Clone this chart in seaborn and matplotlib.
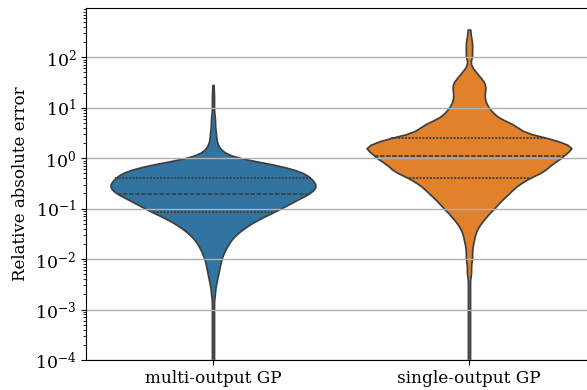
import numpy as np
import pandas as pd
import matplotlib
matplotlib.use("Agg")
import matplotlib.pyplot as plt
import seaborn as sns

# ---- data (log10 of relative absolute error, and how many samples sit there) ----
models = ["multi-output GP", "single-output GP"]
colors = ["#1f77b4", "#ff7f0e"]
ytick_values = [1e-4, 1e-3, 1e-2, 1e-1, 1e0, 1e1, 1e2]

multi_log10 = [1.45, 1.3, 1.2, 1.1, 1.0, 0.9, 0.8, 0.7, 0.6, 0.5, 0.4, 0.3, 0.2, 0.1,
               0.0, -0.1, -0.2, -0.3, -0.4, -0.5, -0.6, -0.7, -0.8, -0.9, -1.0, -1.1, -1.2,
               -1.3, -1.4, -1.5, -1.6, -1.7, -1.8, -1.9, -2.0, -2.1, -2.2, -2.3, -2.4, -2.5,
               -2.6, -2.7, -2.8, -2.9, -3.0, -3.1, -3.2, -3.3, -3.4, -3.5, -3.6, -3.7, -3.8,
               -3.9, -4.0, -4.1, -4.2, -4.3]
multi_counts = [1, 1, 1, 1, 1, 1, 2, 2, 2, 3, 3, 4, 6, 11,
                23, 53, 75, 89, 94, 99, 99, 93, 83, 74, 65, 55, 45,
                36, 29, 23, 18, 15, 12, 10, 8, 7, 6, 5, 4, 3,
                2, 2, 1, 1, 1, 1, 1, 1, 1, 1, 1, 1, 1,
                1, 1, 1, 1, 1]

single_log10 = [2.55, 2.5, 2.4, 2.3, 2.2, 2.1, 2.0, 1.9, 1.8, 1.7, 1.6, 1.5, 1.4, 1.3, 1.2,
                1.1, 1.0, 0.9, 0.8, 0.7, 0.6, 0.5, 0.4, 0.3, 0.2, 0.1, 0.0, -0.1, -0.2,
                -0.3, -0.4, -0.5, -0.6, -0.7, -0.8, -0.9, -1.0, -1.1, -1.2, -1.3, -1.4,
                -1.5, -1.6, -1.7, -1.8, -1.9, -2.0, -2.1, -2.2, -2.3, -2.4, -2.5, -2.6,
                -2.7, -2.8, -2.9, -3.0, -3.1, -3.2, -3.3, -3.4, -3.5, -3.6, -3.7, -3.8,
                -3.9, -4.0, -4.1, -4.2, -4.3]
single_counts = [1, 1, 2, 3, 3, 3, 3, 1, 3, 7, 11, 15, 16, 15, 15,
                 16, 19, 23, 28, 40, 47, 54, 75, 92, 100, 93, 88, 80, 75,
                 68, 57, 49, 43, 38, 33, 28, 24, 19, 15, 11, 8,
                 6, 5, 4, 3, 3, 3, 2, 2, 2, 1, 1, 1,
                 1, 1, 1, 1, 1, 1, 1, 1, 1, 1, 1, 1,
                 1, 1, 1, 1, 1]

frames = {}
for name, logs, counts in [(models[0], multi_log10, multi_counts),
                           (models[1], single_log10, single_counts)]:
    vals = np.repeat(10.0 ** np.array(logs), counts)
    frames[name] = pd.DataFrame({"model": name, "error": vals})

plt.rcParams["font.family"] = ["DejaVu Serif"]
plt.rcParams["mathtext.fontset"] = "dejavuserif"

fig, ax = plt.subplots(figsize=(5.87, 3.9), dpi=100)
fig.subplots_adjust(left=86 / 587, right=1.0, top=1 - 8 / 390, bottom=1 - 360 / 390)

bw = {models[0]: 0.45, models[1]: 0.3}
for name in models:
    sns.violinplot(data=frames[name], x="model", y="error", hue="model", order=models,
                   hue_order=models, palette=colors, legend=False, log_scale=True,
                   cut=0, inner="quart", bw_adjust=bw[name], density_norm="width",
                   width=0.8, ax=ax)

ax.set_ylim(1e-4, 10 ** 2.977)
ax.set_yticks(ytick_values)
ax.set_xlim(-0.496, 1.461)
ax.grid(axis="y", color="#b0b0b0", linewidth=1.0)
ax.grid(axis="x", visible=False)
ax.set_xlabel("")
ax.set_ylabel("Relative absolute error", fontsize=12)
ax.tick_params(axis="y", labelsize=12.5)
ax.tick_params(axis="x", labelsize=12.2)
ax.spines["right"].set_visible(False)

fig.savefig("out.png", dpi=100)
